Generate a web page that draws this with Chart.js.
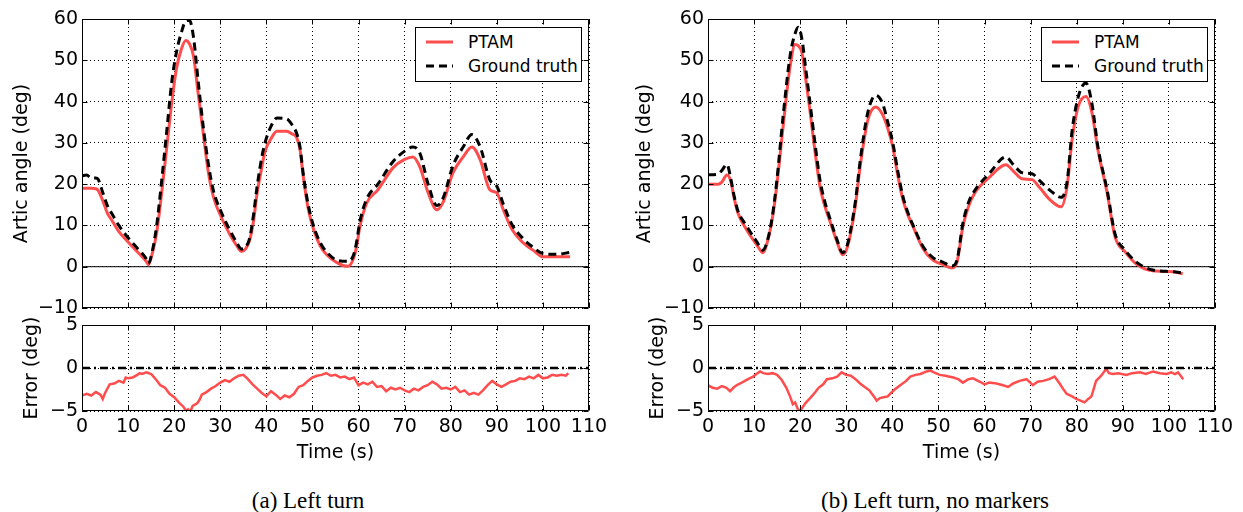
<!DOCTYPE html>
<html>
<head>
<meta charset="utf-8">
<script src="https://cdn.jsdelivr.net/npm/chart.js@4.4.1/dist/chart.umd.min.js"></script>
<style>
  body { margin: 0; background: #fff; }
  #fig { position: relative; width: 1243px; height: 512px; overflow: hidden; background: #fff;
         font-family: "DejaVu Sans", sans-serif; color: #000; }
  canvas { position: absolute; }
  .legend { position: absolute; width: 165px; height: 53px; border: 1px solid #000; background: #fff; font-size: 17px; }
  .legend .row { position: absolute; left: 0; height: 20px; line-height: 20px; }
  .legend svg { position: absolute; left: 9px; top: 0; }
  .legend span { position: absolute; left: 52px; top: 0; white-space: nowrap; }
  .caption { position: absolute; width: 400px; text-align: center; font-family: "Liberation Serif", serif; font-size: 23px; line-height: 26px; }
</style>
</head>
<body>
<div id="fig">
  <canvas id="angleA" width="620" height="330" style="left:0;top:0"></canvas>
  <canvas id="angleB" width="620" height="330" style="left:626px;top:0"></canvas>
  <canvas id="errorA" width="620" height="180" style="left:0;top:300px"></canvas>
  <canvas id="errorB" width="620" height="180" style="left:626px;top:300px"></canvas>

  <div class="legend" style="left:415px;top:27px">
    <div class="row" style="top:4px"><svg width="30" height="20"><line x1="1" y1="10" x2="28" y2="10" stroke="#ff4d4d" stroke-width="3"/></svg><span>PTAM</span></div>
    <div class="row" style="top:28px"><svg width="30" height="20"><line x1="1" y1="10" x2="28" y2="10" stroke="#000" stroke-width="3" stroke-dasharray="8,5"/></svg><span>Ground truth</span></div>
  </div>
  <div class="legend" style="left:1041px;top:27px">
    <div class="row" style="top:4px"><svg width="30" height="20"><line x1="1" y1="10" x2="28" y2="10" stroke="#ff4d4d" stroke-width="3"/></svg><span>PTAM</span></div>
    <div class="row" style="top:28px"><svg width="30" height="20"><line x1="1" y1="10" x2="28" y2="10" stroke="#000" stroke-width="3" stroke-dasharray="8,5"/></svg><span>Ground truth</span></div>
  </div>

  <div class="caption" style="left:108px;top:488px">(a) Left turn</div>
  <div class="caption" style="left:735px;top:488px">(b) Left turn, no markers</div>
</div>
<script>
// tick values
const timeTicks = [0, 10, 20, 30, 40, 50, 60, 70, 80, 90, 100, 110];
const angleTicks = [-10, 0, 10, 20, 30, 40, 50, 60];
const errorTicks = [-5, 0, 5];

// (a) left turn
const timeA = [0, 1, 2, 3, 3.5, 4.5, 5.5, 6.5, 8, 10, 12, 14, 14.4, 15.2, 16.2, 17.3, 18.4, 19.5, 20.5, 21.5,
  22.5, 23.3, 24.2, 25.2, 26.3, 27.4, 28.5, 30.3, 32, 33.5, 34.6, 35.5, 36.4, 37.2, 38, 39, 39.7, 41, 42.3, 44.4,
  45.5, 46.6, 47.3, 48, 49, 50.2, 51.7, 53.1, 55.3, 57.7, 58.8, 59.5, 60.3, 61.8, 64.2, 67.5, 70, 71.8, 73.3, 75.1,
  77, 78.3, 80.5, 82.7, 84.6, 86.4, 88.5, 90, 91.4, 93.3, 95.7, 98, 100, 103, 105.9];
const ptamA = [19, 19, 19, 18.9, 18.5, 16, 13, 11.2, 8.5, 6, 3.6, 1.2, 0.5, 3, 8.2, 18, 29, 40, 48, 52.5,
  54.8, 54, 51, 42, 32.4, 23, 17, 11.8, 8, 5.2, 3.7, 4.3, 6.5, 11, 17.9, 24, 27.9, 31, 32.8, 32.8,
  32.2, 31.2, 28.3, 21.9, 14.5, 9.2, 5, 2.9, 1, 0.1, 1.7, 4.5, 9.7, 15.5, 18.6, 24, 26, 26.6, 24.2, 17.9,
  13.8, 15.5, 22.8, 26.6, 29, 25.9, 18.6, 17.9, 13.8, 9, 5.8, 3.9, 2.4, 2.4, 2.4];
const truthA = [22, 22.2, 21.5, 21.5, 21.2, 18, 14.8, 12.8, 10, 7, 4.5, 1.8, 0.8, 3.5, 10, 21, 33, 45, 52, 56.5,
  59.5, 59.7, 55.5, 45, 34, 25, 18.5, 13, 9, 6, 4.3, 4.8, 7, 12.5, 19.5, 26.5, 30, 34, 36, 35.8,
  34.5, 32.2, 29, 22.5, 15.5, 10, 5.8, 3.5, 1.6, 1.3, 2.5, 5.5, 11, 16.5, 20, 25.5, 28, 29, 27.5, 20,
  14.8, 16.5, 24.5, 29, 32, 29, 21, 19.5, 15.2, 10.2, 6.8, 4.6, 3.2, 3, 3.5];
const errTimeA = [0, 1, 2, 3, 4, 4.5, 5, 6, 7, 8, 9, 9.5, 10, 11, 12, 12.5, 13, 14, 15, 15.5, 16, 17, 18, 19, 20,
  21, 22, 22.6, 23, 23.5, 24, 25, 25.5, 26, 27, 28, 29, 30, 31, 32, 33, 34, 35, 36, 37, 38, 39, 40, 41, 42, 43,
  44, 45, 46, 47, 48, 49, 50, 51, 52, 53, 54, 55, 56, 57, 58, 59, 60, 61, 62, 63, 64, 65, 66, 67, 68, 69, 70,
  71, 72, 73, 74, 75, 76, 77, 78, 79, 80, 81, 82, 83, 84, 85, 86, 87, 88, 89, 90, 91, 92, 93, 94, 95, 96, 97,
  98, 99, 100, 101, 102, 103, 104, 105, 105.5];
const errA = [-3.2, -3.0, -3.2, -2.8, -3.1, -3.6, -2.9, -1.9, -1.8, -1.5, -1.7, -1.1, -1.2, -1.1, -0.8, -0.6, -0.7,
  -0.5, -0.7, -1.0, -1.3, -2.0, -2.3, -3.0, -3.4, -4.0, -4.5, -5.0, -4.8, -5.1, -4.4, -4.1, -3.7, -3.1, -2.8,
  -2.4, -2.1, -1.7, -1.4, -1.6, -1.2, -0.9, -0.8, -1.3, -1.9, -2.4, -2.9, -3.3, -2.7, -3.1, -3.6, -3.2, -3.4,
  -3.0, -2.2, -2.0, -1.5, -1.1, -0.9, -0.8, -0.6, -0.9, -0.8, -1.1, -1.0, -1.3, -1.1, -2.0, -1.7, -1.9, -1.6,
  -2.2, -2.1, -2.7, -2.3, -2.5, -2.3, -2.6, -2.8, -2.4, -2.6, -2.2, -2.0, -1.6, -1.9, -2.4, -2.3, -2.5, -2.2,
  -2.8, -2.6, -3.1, -2.9, -3.1, -2.6, -2.0, -1.5, -1.9, -2.2, -1.9, -1.6, -1.5, -1.2, -1.3, -1.0, -1.2, -0.8,
  -1.2, -1.1, -0.8, -0.9, -0.8, -0.9, -0.6];

// (b) left turn, no markers
const timeB = [0, 2.2, 3, 4.1, 5, 5.6, 6.5, 8.3, 10.6, 11.9, 13, 14, 14.9, 16.3, 17.8, 18.9, 19.6, 20.4, 21.2, 22.1,
  23.2, 24.3, 25.4, 26.5, 28, 29.2, 30, 30.8, 32, 33, 34.7, 36.4, 37.9, 39, 40.1, 41.2, 42.3, 43.4, 44.5, 46.6,
  48.8, 50.8, 52.9, 54, 55.3, 56.5, 57.9, 61.2, 64.6, 66.4, 68.1, 70.3, 72, 74.2, 76.6, 77.9, 79, 80.3, 82, 83.3,
  84.6, 86.6, 88.3, 90.5, 93.1, 96.5, 100.9, 103];
const ptamB = [20, 20, 20.5, 22.2, 20.5, 17, 13, 9.1, 5.3, 3.4, 6.5, 12, 19.4, 34, 48.4, 53.8, 53.5, 51.8, 45.5, 38,
  28, 19.4, 14.5, 10.9, 6, 2.9, 4, 7.3, 15, 24.2, 35.6, 38.7, 36.8, 33.5, 29, 22, 16.2, 12.5, 9.7, 4.5,
  1.6, 0.6, -0.3, 1, 9.7, 14.5, 17.9, 21.8, 24.7, 23, 21.3, 21.1, 19.1, 16.2, 14.5, 19.4, 30.8, 38.7, 41.2, 37.3,
  28.3, 17.9, 7.3, 3.6, 0.5, -1, -1.2, -1.7];
const truthB = [22.3, 22.4, 23.3, 24.8, 21, 17.5, 13.5, 10, 6, 4, 6.8, 12.5, 20.5, 36.5, 51, 56.5, 58, 55, 48, 40,
  30, 21, 15.5, 11.5, 6.5, 3.4, 4.5, 8, 16, 25.5, 37.5, 41.5, 39.5, 35, 30, 23, 17, 13, 10, 5,
  2.2, 1.2, 0.2, 1.5, 10.5, 15.5, 18.5, 22.8, 26.6, 24.5, 22.8, 22.5, 20.8, 18.5, 16.8, 20.5, 33, 41, 44.5, 39.5,
  29, 18.5, 8, 4, 1, -0.8, -1.2, -1.5];
const errTimeB = [0, 1, 2, 3, 4, 4.8, 5.5, 6.2, 7, 8, 9, 9.8, 10.5, 11.3, 12, 13, 14, 15, 16, 17, 17.8, 18.4, 18.9,
  19.5, 20, 20.5, 21.1, 22, 22.5, 23.3, 24, 25, 25.8, 27, 28, 29, 30, 31, 32, 33, 34, 35, 36, 36.6, 37.3, 38.1,
  39, 39.5, 40.5, 41.7, 43, 43.9, 45, 46.1, 47.4, 48.3, 49, 50.3, 51.5, 53.2, 54.3, 55.3, 56.5, 57.5, 59, 60, 61,
  62.6, 64, 65.1, 66.2, 67.6, 69.1, 70.5, 71.5, 72.7, 74, 75.2, 76.3, 77, 77.8, 79, 79.9, 80.8, 81.7, 82.5, 83.2,
  83.7, 84.2, 85.3, 86.4, 87, 87.9, 89, 90.8, 92, 93.7, 95, 96.6, 98, 99.5, 100.5, 101.3, 102, 103.1];
const errB = [-2.0, -2.3, -2.4, -2.1, -2.3, -2.7, -2.3, -2.0, -1.8, -1.5, -1.2, -1.0, -0.7, -0.4, -0.6, -0.7, -0.6,
  -0.8, -1.4, -2.3, -3.3, -4.2, -4.0, -4.8, -5.0, -4.6, -4.1, -3.6, -3.3, -2.8, -2.3, -1.9, -1.3, -1.2, -1.0,
  -0.5, -0.8, -0.9, -1.3, -1.8, -2.2, -2.6, -3.3, -3.8, -3.5, -3.4, -3.3, -3.0, -2.5, -2.0, -1.5, -1.0, -0.8,
  -0.7, -0.4, -0.3, -0.5, -0.8, -0.9, -1.1, -1.3, -1.7, -1.3, -1.2, -1.6, -1.9, -1.7, -1.8, -2.0, -2.2, -1.8,
  -1.5, -1.3, -2.0, -1.6, -1.5, -1.3, -1.0, -1.8, -2.4, -3.0, -3.3, -3.6, -3.8, -4.0, -3.6, -3.3, -2.4, -1.5,
  -0.9, -0.1, -0.6, -0.7, -0.6, -0.8, -0.6, -0.5, -0.7, -0.4, -0.6, -0.7, -0.5, -0.7, -0.5, -1.3];

const RED = '#ff4d4d';
const FONT = { family: 'DejaVu Sans', size: 19, lineHeight: 1.2 };

const pts = (xs, ys) => xs.map((x, i) => ({ x: x, y: ys[i] }));
const zero = () => [{ x: 0, y: 0 }, { x: 110, y: 0 }];
const fmt = v => (v < 0 ? '\u2212' + Math.abs(v) : String(v));

// box round the plot and matplotlib-style inward ticks
const framePlugin = {
  id: 'frame',
  afterDatasetsDraw(chart) {
    const { ctx, chartArea: a, scales } = chart;
    const L = Math.round(a.left) + 0.5, R = Math.round(a.right) - 0.5;
    const T = Math.round(a.top) + 0.5, B = Math.round(a.bottom) - 0.5;
    ctx.save();
    ctx.strokeStyle = '#000';
    ctx.lineWidth = 1;
    ctx.beginPath();
    ctx.rect(L, T, R - L, B - T);
    scales.x.ticks.forEach(t => {
      const p = Math.round(scales.x.getPixelForValue(t.value)) + 0.5;
      ctx.moveTo(p, T); ctx.lineTo(p, T + 5);
      ctx.moveTo(p, B); ctx.lineTo(p, B - 5);
    });
    scales.y.ticks.forEach(t => {
      const p = Math.round(scales.y.getPixelForValue(t.value)) + 0.5;
      ctx.moveTo(L, p); ctx.lineTo(L + 5, p);
      ctx.moveTo(R, p); ctx.lineTo(R - 5, p);
    });
    ctx.stroke();
    ctx.restore();
  }
};

function makeChart(id, datasets, cfg) {
  return new Chart(document.getElementById(id), {
    type: 'line',
    data: { datasets: datasets },
    options: {
      responsive: false,
      animation: false,
      devicePixelRatio: 1,
      layout: { padding: cfg.padding },
      plugins: { legend: { display: false }, tooltip: { enabled: false } },
      elements: { point: { radius: 0 } },
      scales: {
        x: {
          type: 'linear', min: 0, max: 110,
          afterBuildTicks: s => { s.ticks = timeTicks.map(v => ({ value: v })); },
          grid: { color: '#000', lineWidth: 1, drawTicks: false },
          border: { display: false, dash: [1, 3] },
          ticks: { display: cfg.xLabels, padding: 5, color: '#000', font: FONT, maxRotation: 0, autoSkip: false },
          title: { display: cfg.xLabels, text: 'Time (s)', color: '#000', font: FONT, padding: { top: 0, bottom: 16 } },
          afterFit: s => { s.height = cfg.xHeight; }
        },
        y: {
          type: 'linear', min: cfg.yTicks[0], max: cfg.yTicks[cfg.yTicks.length - 1],
          afterBuildTicks: s => { s.ticks = cfg.yTicks.map(v => ({ value: v })); },
          grid: { color: '#000', lineWidth: 1, drawTicks: false },
          border: { display: false, dash: [1, 3] },
          ticks: { padding: 4, color: '#000', font: FONT, callback: fmt },
          title: { display: true, text: cfg.yTitle, color: '#000', font: FONT, padding: { top: cfg.titlePad, bottom: 0 } },
          afterFit: s => { s.width = 82; }
        }
      }
    },
    plugins: [framePlugin]
  });
}

function angleSets(t, ptam, truth) {
  return [
    { data: pts(t, truth), borderColor: '#000', borderWidth: 3, borderDash: [8, 5], cubicInterpolationMode: 'monotone' },
    { data: pts(t, ptam), borderColor: RED, borderWidth: 3, cubicInterpolationMode: 'monotone' },
    { data: zero(), borderColor: '#000', borderWidth: 1 }
  ];
}

function errorSets(t, err) {
  return [
    { data: zero(), borderColor: '#000', borderWidth: 2.5, borderDash: [8, 4, 2, 4] },
    { data: pts(t, err), borderColor: RED, borderWidth: 2.5, tension: 0 }
  ];
}

makeChart('angleA', angleSets(timeA, ptamA, truthA), {
  padding: { left: 0, top: 19, right: 31, bottom: 22 }, xHeight: 0, xLabels: false,
  yTicks: angleTicks, yTitle: 'Artic angle (deg)', titlePad: 11
});
makeChart('angleB', angleSets(timeB, ptamB, truthB), {
  padding: { left: 0, top: 19, right: 31, bottom: 22 }, xHeight: 0, xLabels: false,
  yTicks: angleTicks, yTitle: 'Artic angle (deg)', titlePad: 8
});
makeChart('errorA', errorSets(errTimeA, errA), {
  padding: { left: 0, top: 25, right: 31, bottom: 0 }, xHeight: 69, xLabels: true,
  yTicks: errorTicks, yTitle: 'Error (deg)', titlePad: 21
});
makeChart('errorB', errorSets(errTimeB, errB), {
  padding: { left: 0, top: 25, right: 31, bottom: 0 }, xHeight: 69, xLabels: true,
  yTicks: errorTicks, yTitle: 'Error (deg)', titlePad: 21
});
</script>
</body>
</html>
